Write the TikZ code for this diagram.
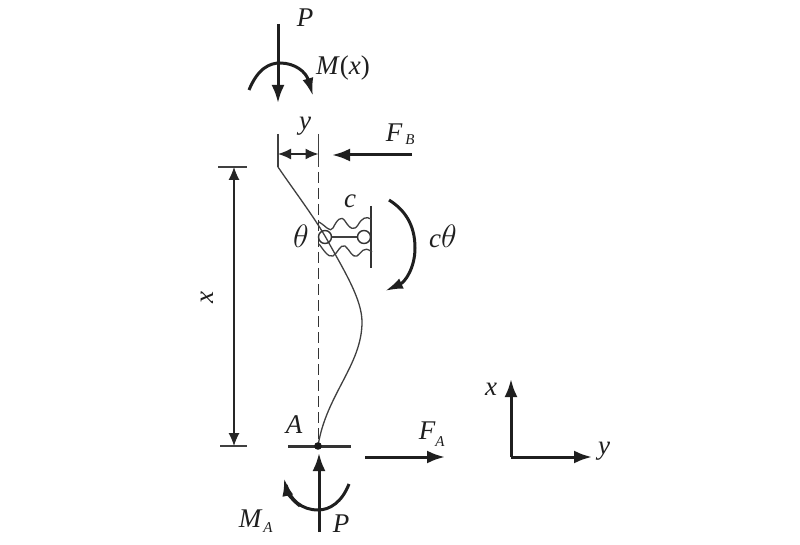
\documentclass[tikz,border=0pt]{standalone}
\usepackage{fontspec}
\setmainfont{Liberation Serif}
\usetikzlibrary{arrows.meta}
\tikzset{
  lbl/.style={inner sep=0pt,font=\fontsize{27}{27}\selectfont\itshape,text=black!88},
  sub/.style={inner sep=0pt,font=\fontsize{15}{15}\selectfont\itshape,text=black!88},
  force/.style={line width=3pt,draw=black!88,-{Latex[length=18pt,width=13pt]}},
  moment/.style={line width=3pt,draw=black!88,-{Latex[length=18pt,width=11pt]}},
  thin line/.style={line width=1.3pt,draw=black!75},
  dim/.style={line width=1.5pt,draw=black!85,{Latex[length=13pt,width=11pt]}-{Latex[length=13pt,width=11pt]}},
}
\begin{document}
\begin{tikzpicture}[x=1pt,y=-1pt]
\useasboundingbox[fill=white] (0,0) rectangle (800,545);
% named points
\coordinate (Ptop) at (278,24);  \coordinate (Pend) at (278,103);
\coordinate (yL) at (278,154);   \coordinate (yR) at (318.5,154);
\coordinate (FBs) at (412,155);  \coordinate (FBe) at (332,155);
\coordinate (top) at (278,167);  \coordinate (A) at (318,446);
\coordinate (dashBot) at (318.5,440);
\coordinate (dimT) at (234,167); \coordinate (dimB) at (234,446);
\coordinate (Ps) at (319,532);   \coordinate (Pe) at (319,453);
\coordinate (FAs) at (365,457);  \coordinate (FAe) at (445,457);
\coordinate (O) at (511,457);    \coordinate (Ox) at (511,379); \coordinate (Oy) at (592,457);
% column
\draw[thin line] (278,134) -- (top);
\draw[thin line] (318.5,134) -- (318.5,167);
\draw[line width=1.6pt,draw=black!80,dash pattern=on 11pt off 5pt] (318.5,172) -- (dashBot);
\draw[thin line] (top) .. controls (295,192) and (318,222) .. (330,245)
  .. controls (345,272) and (362,300) .. (362,322)
  .. controls (362,365) and (326,395) .. (A);
% top loads
\draw[force] (Ptop) -- (Pend);
\draw[moment] (249,90) .. controls (258,68) and (270,63) .. (280,63)
  .. controls (295,63) and (306,72) .. (313,96);
\draw[dim] (yL) -- (yR);
\draw[force] (FBs) -- (FBe);
% overall dimension
\draw[thin line] (218,167) -- (247,167);
\draw[thin line] (220,446) -- (247,446);
\draw[dim,line width=1.1pt] (dimT) -- (dimB);
% spring
\node[circle,draw=black!80,line width=1.4pt,minimum size=13pt,inner sep=0pt] (h1) at (325,237) {};
\node[circle,draw=black!80,line width=1.4pt,minimum size=13pt,inner sep=0pt] (h2) at (364,237) {};
\draw[thin line] (h1) -- (h2);
\draw[line width=1.6pt,draw=black!80] (371,206) -- (371,268);
\draw[thin line] (319,222) .. controls (326,226) and (330,233) .. (333,228)
  .. controls (337,220) and (341,215) .. (345,221)
  .. controls (350,229) and (354,231) .. (358,225)
  .. controls (362,218) and (366,216) .. (371,219);
\draw[thin line] (319,244) .. controls (323,249) and (328,258) .. (333,256)
  .. controls (338,253) and (340,244) .. (345,246)
  .. controls (350,250) and (352,258) .. (357,256)
  .. controls (362,253) and (363,245) .. (372,252);
\draw[moment] (389,200) .. controls (405,210) and (415,225) .. (415,248)
  .. controls (415,268) and (405,282) .. (385,291);
% base
\draw[line width=2.2pt,draw=black!80] (288,446.5) -- (351,446.5);
\fill[black!90] (A) circle (3.8pt);
\draw[force] (Ps) -- (Pe);
\draw[moment,-] (349,484) .. controls (342,502) and (330,510) .. (318,510)
  .. controls (302,510) and (290,500) .. (286,485);
\draw[moment] (300,506) .. controls (292,500) and (287,492) .. (284,478);
\draw[force] (FAs) -- (FAe);
% axes
\draw[force] (O) -- (Ox);
\draw[force] (O) -- (Oy);
% labels
\node[lbl] (lP) at (305,18) {P};
\node[lbl,anchor=west] (lM) at (316,68) {M\textup{(}x\textup{)}};
\node[lbl] (ly) at (305,126) {y};
\node[lbl] (lFB) at (394,133) {F};
\node[sub] (lFBs) at (410,140) {B};
\node[lbl] (lc) at (350,201) {c};
\node[lbl] (lth) at (301,236) {$\scalebox{1.3}{$\theta$}$};
\node[lbl,anchor=west] (lcth) at (429,236) {c$\scalebox{1.3}{$\theta$}$};
\node[lbl,rotate=90] (lx) at (207,298) {x};
\node[lbl] (lA) at (294,425) {A};
\node[lbl] (lFA) at (427,431) {F};
\node[sub] (lFAs) at (440,442) {A};
\node[lbl] (lMA) at (250,519) {M};
\node[sub] (lMAs) at (268,528) {A};
\node[lbl] (lPb) at (341,524) {P};
\node[lbl] (lx2) at (491,389) {x};
\node[lbl] (ly2) at (604,451) {y};
\end{tikzpicture}
\end{document}
